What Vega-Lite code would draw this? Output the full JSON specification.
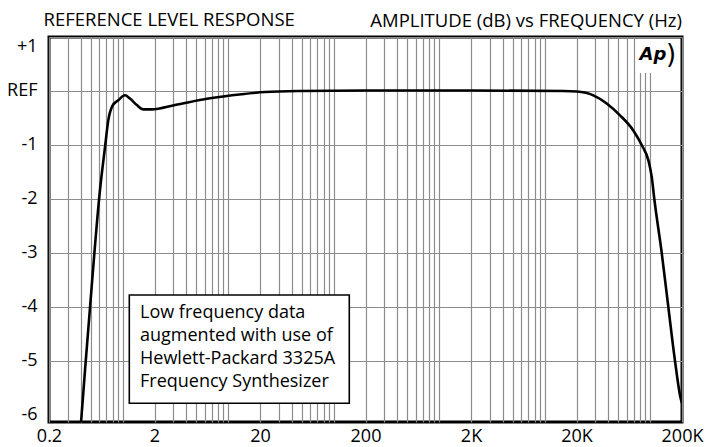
{
  "$schema": "https://vega.github.io/schema/vega-lite/v6.json",
  "width": 633,
  "height": 385,
  "autosize": {"type": "none"},
  "padding": {"left": 49, "top": 37, "right": 25, "bottom": 25},
  "background": "white",
  "config": {
    "view": {"stroke": "black", "strokeWidth": 3},
    "font": "Open Sans",
    "axis": {"labelFont": "Open Sans", "titleFont": "Open Sans", "labelColor": "black", "titleColor": "black"}
  },
  "title": {
    "text": "AMPLITUDE (dB) vs FREQUENCY (Hz)",
    "anchor": "end",
    "frame": "group",
    "font": "Open Sans",
    "fontSize": 18.5,
    "fontWeight": "normal",
    "color": "black",
    "offset": -20
  },
  "datasets": {
    "curve": [
      {"f": 0.393, "db": -6.4},
      {"f": 0.439, "db": -5.17},
      {"f": 0.49, "db": -4.0},
      {"f": 0.608, "db": -1.84},
      {"f": 0.679, "db": -1.04},
      {"f": 0.73, "db": -0.54},
      {"f": 0.796, "db": -0.28},
      {"f": 0.908, "db": -0.17},
      {"f": 1.05, "db": -0.08},
      {"f": 1.17, "db": -0.14},
      {"f": 1.36, "db": -0.26},
      {"f": 1.57, "db": -0.34},
      {"f": 1.88, "db": -0.34},
      {"f": 3.13, "db": -0.26},
      {"f": 6.47, "db": -0.14},
      {"f": 13.4, "db": -0.06},
      {"f": 22.3, "db": -0.02},
      {"f": 48, "db": 0.0},
      {"f": 200, "db": 0.01},
      {"f": 2000, "db": 0.01},
      {"f": 15000, "db": 0.0},
      {"f": 20090, "db": -0.01},
      {"f": 28860, "db": -0.08},
      {"f": 38660, "db": -0.23},
      {"f": 51680, "db": -0.45},
      {"f": 69080, "db": -0.73},
      {"f": 83000, "db": -1.0},
      {"f": 95860, "db": -1.28},
      {"f": 103300, "db": -1.59},
      {"f": 109300, "db": -2.0},
      {"f": 128500, "db": -3.0},
      {"f": 148400, "db": -4.0},
      {"f": 171700, "db": -5.0},
      {"f": 194600, "db": -5.7},
      {"f": 200000, "db": -5.78}
    ],
    "box": [{"x": 1.154, "x2": 140.4, "y": -3.778, "y2": -5.783}],
    "note": [{"x": 1.458, "y": -4.117, "t": "Low frequency data\naugmented with use of\nHewlett-Packard 3325A\nFrequency Synthesizer"}],
    "logobg": [{"x": 73300, "x2": 191400, "y": 0.963, "y2": 0.333}],
    "logo": [{"x": 106200, "y": 0.667, "t": "Ap"}],
    "logoarc": [{"x": 157400, "y": 0.667, "t": ")"}]
  },
  "layer": [
    {
      "data": {"name": "curve"},
      "mark": {"type": "line", "color": "black", "strokeWidth": 2.6, "interpolate": "monotone", "clip": true},
      "encoding": {
        "x": {
          "field": "f",
          "type": "quantitative",
          "scale": {"type": "log", "domain": [0.2, 200000], "nice": false},
          "axis": {
            "values": [0.2, 0.3, 0.4, 0.5, 0.6, 0.7, 0.8, 0.9, 1, 2, 3, 4, 5, 6, 7, 8, 9, 10, 20, 30, 40, 50, 60, 70, 80, 90, 100, 200, 300, 400, 500, 600, 700, 800, 900, 1000, 2000, 3000, 4000, 5000, 6000, 7000, 8000, 9000, 10000, 20000, 30000, 40000, 50000, 60000, 70000, 80000, 90000, 100000, 200000],
            "labelExpr": "datum.value == 0.2 ? '0.2' : datum.value == 2 ? '2' : datum.value == 20 ? '20' : datum.value == 200 ? '200' : datum.value == 2000 ? '2K' : datum.value == 20000 ? '20K' : datum.value == 200000 ? '200K' : ''",
            "labelOverlap": false,
            "labelFlush": false,
            "labelFontSize": 18,
            "labelPadding": 5,
            "ticks": false,
            "domain": false,
            "grid": true,
            "gridColor": "#8c8c8c",
            "gridWidth": 1.2,
            "title": null
          }
        },
        "y": {
          "field": "db",
          "type": "quantitative",
          "scale": {"domain": [-6.13, 1], "nice": false, "zero": false},
          "axis": {
            "values": [-6, -5, -4, -3, -2, -1, 0, 1],
            "labelExpr": "datum.value > 0 ? '+1' : datum.value == 0 ? 'REF' : '-' + abs(datum.value)",
            "labelFontSize": 18,
            "labelPadding": 12,
            "labelFlush": true,
            "ticks": false,
            "domain": false,
            "grid": true,
            "gridWidth": 1.2,
            "gridColor": "#8c8c8c",
            "gridOpacity": {"condition": {"test": "datum.value < -5.5", "value": 0}, "value": 1},
            "title": "REFERENCE LEVEL RESPONSE",
            "titleAngle": 0,
            "titleAlign": "left",
            "titleBaseline": "middle",
            "titleX": -6,
            "titleY": -18,
            "titleFontSize": 18.5,
            "titleFontWeight": "normal"
          }
        }
      }
    },
    {
      "data": {"name": "box"},
      "mark": {"type": "rect", "fill": "white", "stroke": "black", "strokeWidth": 1.6},
      "encoding": {
        "x": {"field": "x", "type": "quantitative"},
        "x2": {"field": "x2"},
        "y": {"field": "y", "type": "quantitative"},
        "y2": {"field": "y2"}
      }
    },
    {
      "data": {"name": "note"},
      "mark": {"type": "text", "align": "left", "baseline": "middle", "lineBreak": "\n", "lineHeight": 23, "fontSize": 18, "font": "Open Sans", "color": "black"},
      "encoding": {
        "x": {"field": "x", "type": "quantitative"},
        "y": {"field": "y", "type": "quantitative"},
        "text": {"field": "t"}
      }
    },
    {
      "data": {"name": "logobg"},
      "mark": {"type": "rect", "fill": "white"},
      "encoding": {
        "x": {"field": "x", "type": "quantitative"},
        "x2": {"field": "x2"},
        "y": {"field": "y", "type": "quantitative"},
        "y2": {"field": "y2"}
      }
    },
    {
      "data": {"name": "logoarc"},
      "mark": {"type": "text", "align": "center", "baseline": "middle", "fontSize": 26, "fontWeight": "normal", "font": "DejaVu Sans", "color": "black"},
      "encoding": {
        "x": {"field": "x", "type": "quantitative"},
        "y": {"field": "y", "type": "quantitative"},
        "text": {"field": "t"}
      }
    },
    {
      "data": {"name": "logo"},
      "mark": {"type": "text", "align": "center", "baseline": "middle", "fontSize": 18, "fontWeight": "bold", "fontStyle": "italic", "font": "DejaVu Sans", "color": "black"},
      "encoding": {
        "x": {"field": "x", "type": "quantitative"},
        "y": {"field": "y", "type": "quantitative"},
        "text": {"field": "t"}
      }
    }
  ]
}
